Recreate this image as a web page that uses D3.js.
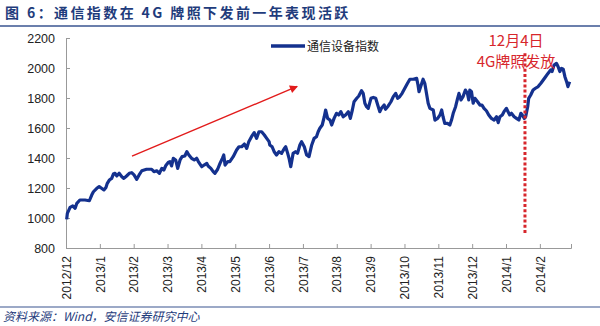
<!DOCTYPE html>
<html><head><meta charset="utf-8">
<script src="https://cdn.jsdelivr.net/npm/d3@7/dist/d3.min.js"></script>
<style>
body{margin:0;background:#fff;}
svg{display:block;}
</style></head>
<body><svg id="c" width="600" height="326"></svg>
<script>
// ---- data ----
const monthLabels = ["2012/12","2013/1","2013/2","2013/3","2013/4","2013/5","2013/6","2013/7","2013/8","2013/9","2013/10","2013/11","2013/12","2014/1","2014/2"];
const yTicks = [800,1000,1200,1400,1600,1800,2000,2200];
const seriesName = "通信设备指数";
// time in months after the 2012/12 tick
const seriesT = [0.02,0.04,0.12,0.20,0.27,0.32,0.41,0.56,0.69,0.76,0.81,0.91,0.98,1.05,1.12,1.18,1.22,1.28,1.35,1.40,1.45,1.50,1.57,1.65,1.71,1.79,1.87,1.94,2.01,2.09,2.16,2.24,2.38,2.53,2.60,2.68,2.76,2.83,2.89,2.95,3.02,3.07,3.12,3.17,3.24,3.30,3.37,3.43,3.51,3.57,3.63,3.71,3.79,3.86,3.91,4.01,4.08,4.16,4.20,4.28,4.35,4.40,4.48,4.55,4.62,4.66,4.70,4.78,4.84,4.94,5.04,5.11,5.19,5.27,5.34,5.40,5.48,5.56,5.63,5.70,5.78,5.86,5.93,6.00,6.02,6.09,6.15,6.22,6.29,6.37,6.45,6.49,6.55,6.59,6.64,6.71,6.78,6.84,6.91,6.96,7.04,7.11,7.18,7.26,7.33,7.40,7.45,7.50,7.57,7.63,7.67,7.73,7.80,7.85,7.92,7.99,8.06,8.12,8.19,8.26,8.34,8.40,8.46,8.51,8.59,8.65,8.73,8.78,8.83,8.88,8.93,9.01,9.08,9.15,9.21,9.27,9.32,9.40,9.44,9.52,9.60,9.67,9.74,9.80,9.86,9.93,10.01,10.09,10.16,10.26,10.36,10.40,10.43,10.48,10.55,10.60,10.65,10.70,10.75,10.85,10.90,10.98,11.05,11.10,11.14,11.19,11.27,11.34,11.39,11.44,11.51,11.57,11.61,11.67,11.73,11.80,11.86,11.90,11.93,11.98,12.03,12.08,12.16,12.23,12.29,12.35,12.42,12.49,12.57,12.65,12.72,12.77,12.82,12.89,12.94,13.01,13.06,13.11,13.16,13.24,13.31,13.38,13.44,13.48,13.54,13.58,13.64,13.67,13.73,13.80,13.87,13.95,14.03,14.10,14.17,14.24,14.32,14.36,14.42,14.49,14.54,14.59,14.64,14.69,14.74,14.79,14.83,14.88];
const seriesV = [991,1031,1071,1080,1065,1098,1120,1120,1115,1153,1175,1198,1209,1198,1187,1204,1231,1253,1264,1293,1298,1280,1298,1275,1264,1280,1298,1302,1287,1258,1287,1315,1325,1325,1309,1315,1298,1331,1320,1350,1370,1376,1347,1398,1387,1331,1387,1409,1413,1442,1420,1398,1387,1398,1376,1342,1353,1364,1347,1331,1309,1298,1325,1364,1398,1420,1353,1376,1376,1409,1453,1475,1475,1493,1464,1509,1542,1569,1531,1575,1575,1553,1531,1509,1487,1475,1442,1420,1442,1431,1464,1475,1431,1398,1342,1431,1442,1431,1487,1509,1475,1420,1409,1487,1531,1542,1575,1598,1620,1675,1720,1664,1653,1620,1664,1698,1687,1709,1675,1687,1709,1664,1720,1775,1798,1813,1849,1831,1765,1742,1731,1798,1804,1798,1753,1709,1731,1753,1725,1747,1775,1809,1831,1798,1809,1831,1865,1898,1925,1925,1931,1887,1842,1876,1925,1898,1831,1765,1731,1720,1653,1664,1687,1720,1675,1631,1631,1620,1653,1698,1742,1798,1831,1787,1809,1853,1831,1787,1853,1842,1765,1798,1775,1753,1753,1731,1715,1687,1664,1653,1675,1636,1675,1687,1709,1731,1709,1687,1698,1675,1664,1653,1698,1687,1664,1675,1742,1798,1820,1853,1865,1876,1898,1920,1942,1964,1987,1976,2020,2031,2009,1976,1998,1992,1942,1909,1876,1909];
const eventT = 13.56;               // dotted marker position
const eventRange = [900, 2105];     // value span of dotted marker
const eventText = ["12月4日","4G牌照发放"];
const arrowFrom = [1.95, 1413];
const arrowTo = [6.83, 1877];
const titleText = "图 6：通信指数在 4G 牌照下发前一年表现活跃";
const sourceText = "资料来源：Wind，安信证券研究中心";

// ---- layout ----
const svg = d3.select("#c");
const L = 66, R = 571, T = 38, B = 248;
const x = d3.scaleLinear().domain([0, 14.92]).range([L, R]);
const y = d3.scaleLinear().domain([800, 2200]).range([B, T]);
const cjk = "'Noto Sans CJK SC','Liberation Sans',Arial,sans-serif";
const lat = "'Liberation Sans',Arial,sans-serif";

// title
svg.append("text").attr("x", 5).attr("y", 18)
  .attr("font-family", cjk).attr("font-weight", 700).attr("font-size", 14)
  .attr("letter-spacing", 2.4).attr("fill", "#1f3c7c").text(titleText);
svg.append("line").attr("x1", 0).attr("x2", 600).attr("y1", 26).attr("y2", 26)
  .attr("stroke", "#3a5590").attr("stroke-width", 1.5);

// axes
const yAxis = d3.axisLeft(y).tickValues(yTicks).tickSize(-4).tickPadding(11).tickFormat(d3.format("d"));
const gy = svg.append("g").attr("transform", `translate(${L},0)`).call(yAxis);
gy.select(".domain").attr("stroke", "#999");
gy.selectAll(".tick line").attr("stroke", "#999");
gy.selectAll("text").attr("font-family", lat).attr("font-size", 12.5).attr("fill", "#222");

const xAxis = d3.axisBottom(x).tickValues(d3.range(monthLabels.length)).tickSize(-4)
  .tickFormat(i => monthLabels[i]);
const gx = svg.append("g").attr("transform", `translate(0,${B})`).call(xAxis);
gx.select(".domain").attr("stroke", "#999");
gx.selectAll(".tick line").attr("stroke", "#999");
gx.selectAll("text").attr("font-family", lat).attr("font-size", 12).attr("fill", "#222")
  .attr("text-anchor", "end").attr("transform", "rotate(-90)")
  .attr("x", -8).attr("y", 0).attr("dy", "0.35em");

// series
const pts = seriesT.map((t, i) => [t, seriesV[i]]);
svg.append("path").datum(pts)
  .attr("fill", "none").attr("stroke", "#14318e").attr("stroke-width", 3.2)
  .attr("stroke-linejoin", "round")
  .attr("d", d3.line().x(d => x(d[0])).y(d => y(d[1])));

// legend
svg.append("line").attr("x1", 271).attr("x2", 305).attr("y1", 46).attr("y2", 46)
  .attr("stroke", "#14318e").attr("stroke-width", 3.5);
svg.append("text").attr("x", 307).attr("y", 50.5).attr("font-family", cjk)
  .attr("font-size", 12).attr("fill", "#222").text(seriesName);

// red arrow
const defs = svg.append("defs");
defs.append("marker").attr("id", "ah").attr("viewBox", "0 0 10 10").attr("refX", 9).attr("refY", 5)
  .attr("markerWidth", 11).attr("markerHeight", 8).attr("markerUnits", "userSpaceOnUse")
  .attr("orient", "auto")
  .append("path").attr("d", "M0,0L10,5L0,10Z").attr("fill", "#e21b1b");
svg.append("line")
  .attr("x1", x(arrowFrom[0])).attr("y1", y(arrowFrom[1]))
  .attr("x2", x(arrowTo[0])).attr("y2", y(arrowTo[1]))
  .attr("stroke", "#e21b1b").attr("stroke-width", 1.4).attr("marker-end", "url(#ah)");

// event marker
svg.append("line").attr("x1", x(eventT)).attr("x2", x(eventT))
  .attr("y1", y(eventRange[0])).attr("y2", y(eventRange[1]))
  .attr("stroke", "#d7262c").attr("stroke-width", 3).attr("stroke-dasharray", "3,2.2");
svg.append("text").attr("x", 516).attr("y", 46).attr("text-anchor", "middle")
  .attr("font-family", cjk).attr("font-size", 15).attr("fill", "#d7262c").text(eventText[0]);
svg.append("text").attr("x", 516).attr("y", 67).attr("text-anchor", "middle")
  .attr("font-family", cjk).attr("font-size", 15).attr("fill", "#d7262c").text(eventText[1]);

// source
svg.append("line").attr("x1", 0).attr("x2", 600).attr("y1", 307).attr("y2", 307)
  .attr("stroke", "#3a5590").attr("stroke-width", 1.2);
svg.append("text").attr("x", 3).attr("y", 321).attr("font-family", cjk)
  .attr("font-size", 12).attr("font-style", "italic").attr("fill", "#1f3c7c").text(sourceText);
</script></body></html>
